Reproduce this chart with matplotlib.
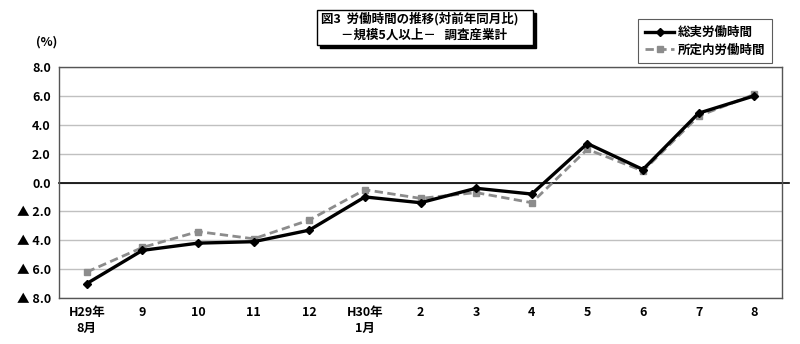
import matplotlib
matplotlib.use('Agg')
import matplotlib.pyplot as plt
from matplotlib.patches import Rectangle

plt.rcParams['font.family'] = ['Noto Sans CJK JP', 'DejaVu Sans']

months = ['H29年\n8月', '9', '10', '11', '12', 'H30年\n1月', '2', '3', '4', '5', '6', '7', '8']
total_hours = [-7.0, -4.7, -4.2, -4.1, -3.3, -1.0, -1.4, -0.4, -0.8, 2.7, 0.9, 4.8, 6.0]
scheduled_hours = [-6.2, -4.5, -3.4, -3.9, -2.6, -0.5, -1.1, -0.7, -1.4, 2.3, 0.8, 4.6, 6.1]
yticks = [8, 6, 4, 2, 0, -2, -4, -6, -8]
ytick_labels = ['8.0', '6.0', '4.0', '2.0', '0.0', '▲ 2.0', '▲ 4.0', '▲ 6.0', '▲ 8.0']

fig = plt.figure(figsize=(8, 3.44), dpi=100)
ax = fig.add_axes([59 / 800, 1 - 298 / 344, (782 - 59) / 800, (298 - 67) / 344])

x = [i + 0.5 for i in range(len(months))]
ax.plot(x, scheduled_hours, color='#8c8c8c', lw=2, ls=(0, (3, 1.6)), marker='s', ms=5,
        label='所定内労働時間', zorder=3)
ax.plot(x, total_hours, color='black', lw=2.4, marker='D', ms=4.5,
        label='総実労働時間', zorder=4)

ax.set_xlim(0, len(months))
ax.set_ylim(-8, 8)
ax.set_yticks(yticks)
ax.set_yticklabels(ytick_labels, fontsize=9, fontweight='bold')
ax.set_xticks(x)
ax.set_xticklabels(months, fontsize=9, fontweight='bold', linespacing=1.3, va='top')
ax.tick_params(length=0, pad=6)
for lbl in ax.get_xticklabels():
    if '\n' in lbl.get_text():
        lbl.set_multialignment('center')

ax.grid(axis='y', color='#c0c0c0', lw=1)
ax.set_axisbelow(True)
for s in ax.spines.values():
    s.set_color('#555555')
    s.set_linewidth(1.0)
ax.plot([0, 13.12], [0, 0], color='black', lw=1.2, clip_on=False, zorder=2)

fig.text(36 / 800, 1 - 42 / 344, '(%)', fontsize=9, fontweight='bold', va='center')

# title box with shadow
tx0, ty0, tw, th = 317 / 800, 1 - 45 / 344, (533 - 317) / 800, 35 / 344
fig.patches.append(Rectangle((tx0 + 0.004, ty0 - 0.010), tw, th, transform=fig.transFigure,
                             facecolor='black', edgecolor='black'))
fig.patches.append(Rectangle((tx0, ty0), tw, th, transform=fig.transFigure,
                             facecolor='white', edgecolor='black', lw=1))
fig.text(321 / 800, 1 - 19 / 344, '図3  労働時間の推移(対前年同月比)', fontsize=9,
         fontweight='bold', va='center')
fig.text(341 / 800, 1 - 35 / 344, '－規模5人以上－   調査産業計', fontsize=9,
         fontweight='bold', va='center')

handles, labels = ax.get_legend_handles_labels()
leg = fig.legend(handles[::-1], labels[::-1], loc='upper left',
                 bbox_to_anchor=(632 / 800, 1 - 13 / 344), fontsize=9,
                 frameon=True, fancybox=False, edgecolor='#333333', handlelength=2.3,
                 borderpad=0.55, labelspacing=0.35, handletextpad=0.3)
leg.get_frame().set_linewidth(0.8)
for t in leg.get_texts():
    t.set_fontweight('bold')

fig.savefig('out.png', dpi=100)
